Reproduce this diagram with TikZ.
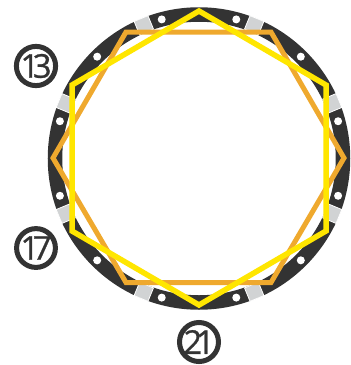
\documentclass[tikz,border=0pt]{standalone}
\usepackage{fontspec}
\setmainfont{Open Sans}
\newfontfamily\bdgfont[FakeBold=0.8]{Open Sans}
\definecolor{ringc}{HTML}{333333}
\definecolor{grayc}{HTML}{D1D3D4}
\definecolor{orangec}{HTML}{EFA92E}
\definecolor{yellowc}{HTML}{FFE600}
\tikzset{
  ringline/.style={draw=ringc,line width=14.5bp},
  graybox/.style={draw=white,line width=0.8bp,fill=grayc},
  dotw/.style={fill=white,draw=none},
  hexo/.style={draw=orangec,line width=5bp,miter limit=10},
  hexy/.style={draw=yellowc,line width=5.5bp,miter limit=10},
  badge/.style={circle,draw=ringc,line width=5bp,minimum size=37bp,inner sep=0pt,text=ringc,font=\bdgfont\fontsize{33}{33}\selectfont}
}
\newcommand{\tight}[2]{#1\kern-6.5bp #2}
\begin{document}
\begin{tikzpicture}[x=1bp,y=-1bp]
\useasboundingbox (0,0) rectangle (351,365);
\fill[white] (0,0) rectangle (351,365);
\coordinate (c) at (199,158.5);
\draw[ringline] (c) circle[radius=144];
\foreach \a in {22.5,67.5,...,337.5}{
  \fill[graybox,shift={(c)},rotate=-\a] (137,-7.5) rectangle (151.5,7.5);
}
\foreach \a in {15,45,...,345}{
  \fill[dotw,shift={(c)}] (\a:144) ++(0,0) circle[radius=4];
}
\draw[hexo] (126,32) -- (271,32) -- (344,158) -- (271,282.5) -- (126,282.5) -- (53,158) -- cycle;
\draw[hexy] (199,11) -- (326,85) -- (326,231) -- (199,305) -- (72,231) -- (72,85) -- cycle;
\node[badge] (b13) at (36,66) {\tight{1}{3}};
\node[badge] (b17) at (36,248) {\tight{1}{7}};
\node[badge] (b21) at (199,342) {\tight{2}{1}};
\end{tikzpicture}
\end{document}
